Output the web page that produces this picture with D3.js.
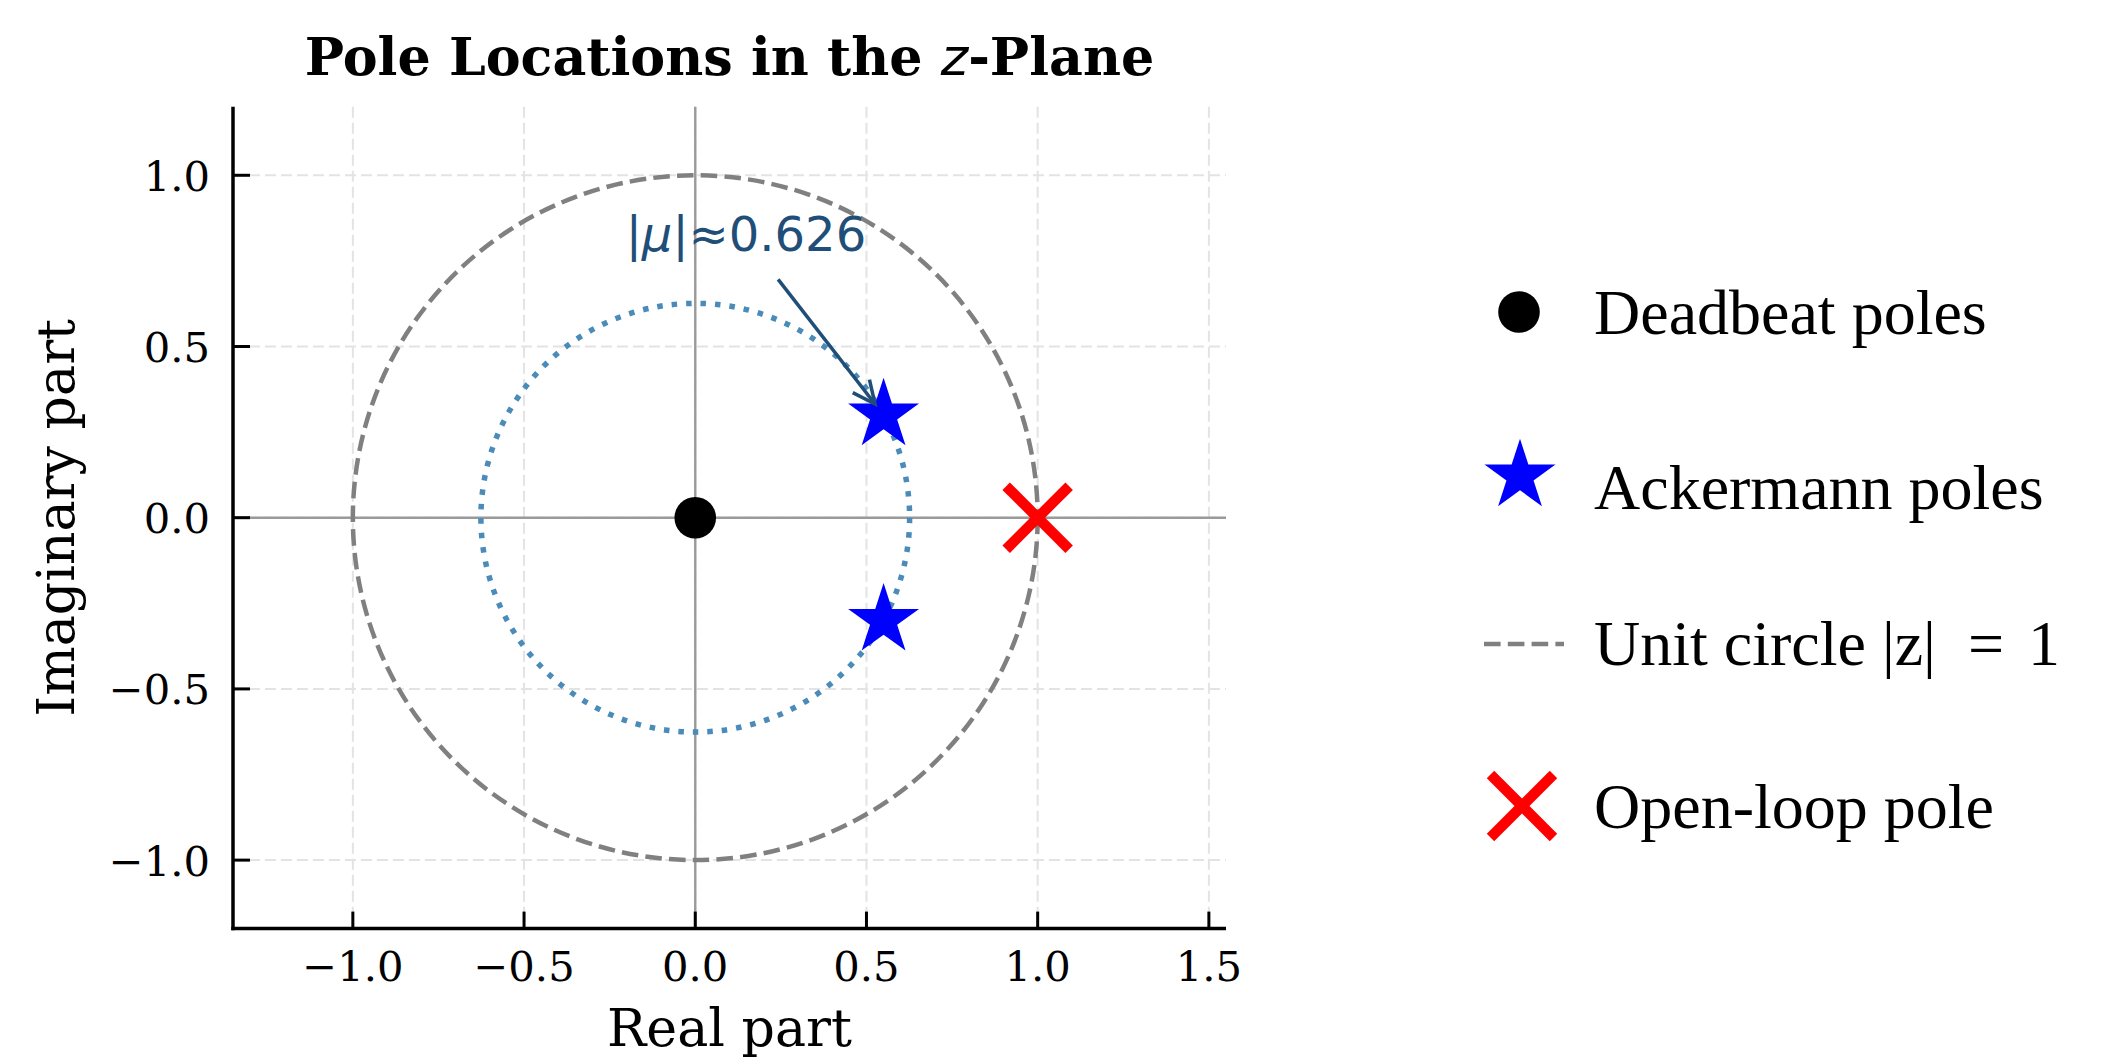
<!DOCTYPE html>
<html lang="en">
<head>
    <meta charset="utf-8" />
    <script src="https://d3js.org/d3.v7.min.js"></script>
    <style>
        body { margin: 0; background: #fff; }
        svg { display: block; }
    </style>
</head>
<body>
    <script>
        // pole data
        var deadbeatRe = [0.0];
        var deadbeatIm = [0.0];
        var ackermannRe = [0.55, 0.55];
        var ackermannIm = [0.30, -0.30];
        var openLoopRe = [1.0];
        var openLoopIm = [0.0];
        var muRadius = 0.626;
        var unitRadius = 1.0;
        var xTicks = [-1.0, -0.5, 0.0, 0.5, 1.0, 1.5];
        var yTicks = [-1.0, -0.5, 0.0, 0.5, 1.0];
        var legendLabels = ["Deadbeat poles", "Ackermann poles", "Unit circle", "Open-loop pole"];
        var annoText = "\u2248" + muRadius.toFixed(3);

        var width = 2115, height = 1061;
        var svg = d3.select("body").append("svg")
            .attr("width", width)
            .attr("height", height);
        svg.append("rect").attr("width", width).attr("height", height).attr("fill", "#fff");

        var x = d3.scaleLinear().domain([-1.35, 1.55]).range([233, 1226]);
        var y = d3.scaleLinear().domain([-1.2, 1.2]).range([928.6, 106.8]);
        var px = function(r) { return x(r) - x(0); };

        var serif = "'DejaVu Serif', serif";
        var times = "'Liberation Serif', 'Times New Roman', serif";
        var sans = "'DejaVu Sans', sans-serif";

        var g = svg.append("g");

        // grid
        g.selectAll(".vgrid").data(xTicks).join("line")
            .attr("x1", d => x(d)).attr("x2", d => x(d))
            .attr("y1", y(1.2)).attr("y2", y(-1.2))
            .attr("stroke", "#e3e3e3").attr("stroke-width", 2)
            .attr("stroke-dasharray", "11,5");
        g.selectAll(".hgrid").data(yTicks).join("line")
            .attr("x1", x(-1.35)).attr("x2", x(1.55))
            .attr("y1", d => y(d)).attr("y2", d => y(d))
            .attr("stroke", "#e3e3e3").attr("stroke-width", 2)
            .attr("stroke-dasharray", "11,5");

        // zero lines
        g.append("line").attr("x1", x(-1.35)).attr("x2", x(1.55))
            .attr("y1", y(0)).attr("y2", y(0))
            .attr("stroke", "#9a9a9a").attr("stroke-width", 2.4);
        g.append("line").attr("x1", x(0)).attr("x2", x(0))
            .attr("y1", y(1.2)).attr("y2", y(-1.2))
            .attr("stroke", "#9a9a9a").attr("stroke-width", 2.4);

        // unit circle
        g.append("ellipse")
            .attr("cx", x(0)).attr("cy", y(0))
            .attr("rx", px(unitRadius)).attr("ry", y(0) - y(unitRadius))
            .attr("fill", "none").attr("stroke", "#808080")
            .attr("stroke-width", 4.5).attr("stroke-dasharray", "16.6,7.2");

        // |mu| circle
        g.append("ellipse")
            .attr("cx", x(0)).attr("cy", y(0))
            .attr("rx", px(muRadius)).attr("ry", y(0) - y(muRadius))
            .attr("fill", "none").attr("stroke", "#4a8bb9")
            .attr("stroke-width", 5.5).attr("stroke-dasharray", "5.5,9");

        // markers
        var starSym = d3.symbol().type(d3.symbolStar).size(37.3 * 37.3 / 0.8908);
        var crossHalf = 31.5;

        g.selectAll(".dead").data(deadbeatRe).join("circle")
            .attr("cx", d => x(d)).attr("cy", (d, i) => y(deadbeatIm[i]))
            .attr("r", 20.8).attr("fill", "#000");

        g.selectAll(".star").data(ackermannRe).join("path")
            .attr("d", starSym)
            .attr("transform", (d, i) => "translate(" + x(d) + "," + y(ackermannIm[i]) + ")")
            .attr("fill", "#0000ff");

        var cross = g.selectAll(".cross").data(openLoopRe).join("g")
            .attr("transform", (d, i) => "translate(" + x(d) + "," + y(openLoopIm[i]) + ")");
        cross.append("line").attr("x1", -crossHalf).attr("y1", -crossHalf).attr("x2", crossHalf).attr("y2", crossHalf)
            .attr("stroke", "#ff0000").attr("stroke-width", 10.5);
        cross.append("line").attr("x1", -crossHalf).attr("y1", crossHalf).attr("x2", crossHalf).attr("y2", -crossHalf)
            .attr("stroke", "#ff0000").attr("stroke-width", 10.5);

        // annotation
        var annoColor = "#1f4e79";
        var a0 = [x(0.242), y(0.696)], a1 = [x(0.525), y(0.332)];
        var ang = Math.atan2(a0[1] - a1[1], a0[0] - a1[0]);
        var headLen = 25, headAng = 25 * Math.PI / 180;
        g.append("line").attr("x1", a0[0]).attr("y1", a0[1]).attr("x2", a1[0]).attr("y2", a1[1])
            .attr("stroke", annoColor).attr("stroke-width", 3.5);
        g.append("path")
            .attr("d", "M" + (a1[0] + headLen * Math.cos(ang + headAng)) + "," + (a1[1] + headLen * Math.sin(ang + headAng)) +
                "L" + a1[0] + "," + a1[1] +
                "L" + (a1[0] + headLen * Math.cos(ang - headAng)) + "," + (a1[1] + headLen * Math.sin(ang - headAng)))
            .attr("fill", "none").attr("stroke", annoColor).attr("stroke-width", 3.5);
        var at = g.append("text").attr("x", x(0.148)).attr("y", y(0.78))
            .attr("text-anchor", "middle").attr("font-family", sans).attr("font-size", 48)
            .attr("fill", annoColor);
        at.append("tspan").text("|");
        at.append("tspan").attr("font-style", "italic").text("\u03bc");
        at.append("tspan").text("|" + annoText);

        // spines
        svg.append("line").attr("x1", 233).attr("x2", 233).attr("y1", y(1.2)).attr("y2", y(-1.2) + 1.75)
            .attr("stroke", "#000").attr("stroke-width", 3.5);
        svg.append("line").attr("x1", 233 - 1.75).attr("x2", x(1.55)).attr("y1", y(-1.2)).attr("y2", y(-1.2))
            .attr("stroke", "#000").attr("stroke-width", 3.5);

        // ticks (inward)
        svg.selectAll(".xt").data(xTicks).join("line")
            .attr("x1", d => x(d)).attr("x2", d => x(d))
            .attr("y1", y(-1.2)).attr("y2", y(-1.2) - 17)
            .attr("stroke", "#000").attr("stroke-width", 3);
        svg.selectAll(".yt").data(yTicks).join("line")
            .attr("x1", 233).attr("x2", 233 + 17)
            .attr("y1", d => y(d)).attr("y2", d => y(d))
            .attr("stroke", "#000").attr("stroke-width", 3);

        var fmt = function(d) { return (d < 0 ? "\u2212" : "") + Math.abs(d).toFixed(1); };
        svg.selectAll(".xl").data(xTicks).join("text")
            .attr("x", d => x(d)).attr("y", 981)
            .attr("text-anchor", "middle").attr("font-family", serif).attr("font-size", 41.7)
            .text(fmt);
        svg.selectAll(".yl").data(yTicks).join("text")
            .attr("x", 210).attr("y", d => y(d) + 15.5)
            .attr("text-anchor", "end").attr("font-family", serif).attr("font-size", 41.7)
            .text(fmt);

        // axis labels
        svg.append("text").attr("x", (x(-1.35) + x(1.55)) / 2).attr("y", 1046)
            .attr("text-anchor", "middle").attr("font-family", serif).attr("font-size", 52.2)
            .text("Real part");
        svg.append("text").attr("transform", "translate(74," + y(0) + ") rotate(-90)")
            .attr("text-anchor", "middle").attr("font-family", serif).attr("font-size", 52.2)
            .text("Imaginary part");

        // title
        var tt = svg.append("text").attr("x", (x(-1.35) + x(1.55)) / 2).attr("y", 75)
            .attr("text-anchor", "middle").attr("font-family", serif).attr("font-size", 52.3)
            .attr("font-weight", "bold");
        tt.append("tspan").text("Pole Locations in the ");
        tt.append("tspan").attr("font-style", "italic").attr("font-weight", "normal").attr("font-family", sans).text("z");
        tt.append("tspan").text("-Plane");

        // legend
        var legRowY = [312, 476, 644, 806];
        var legTextY = [334, 509, 665, 828];
        var legFont = 64;
        var leg = svg.append("g");
        leg.append("circle").attr("cx", 1519).attr("cy", legRowY[0]).attr("r", 20.8).attr("fill", "#000");
        leg.append("path").attr("d", starSym).attr("transform", "translate(1520," + legRowY[1] + ")").attr("fill", "#0000ff");
        leg.append("line").attr("x1", 1484).attr("x2", 1564).attr("y1", legRowY[2]).attr("y2", legRowY[2])
            .attr("stroke", "#808080").attr("stroke-width", 4.5).attr("stroke-dasharray", "16.6,7.2");
        var lc = leg.append("g").attr("transform", "translate(1522," + legRowY[3] + ")");
        lc.append("line").attr("x1", -crossHalf).attr("y1", -crossHalf).attr("x2", crossHalf).attr("y2", crossHalf)
            .attr("stroke", "#ff0000").attr("stroke-width", 10.5);
        lc.append("line").attr("x1", -crossHalf).attr("y1", crossHalf).attr("x2", crossHalf).attr("y2", -crossHalf)
            .attr("stroke", "#ff0000").attr("stroke-width", 10.5);
        var lt = leg.selectAll(".lt").data(legendLabels).join("text")
            .attr("x", 1594).attr("y", (d, i) => legTextY[i])
            .attr("font-family", times).attr("font-size", legFont);
        lt.append("tspan").text(d => d);
        // math part of the unit circle label: |z| = 1
        var math = lt.filter((d, i) => i === 2);
        math.append("tspan").attr("dx", 0.25 * legFont).text("|z|");
        math.append("tspan").attr("dx", 32).text("=");
        math.append("tspan").attr("dx", 24).text("1");
    </script>
</body>
</html>
